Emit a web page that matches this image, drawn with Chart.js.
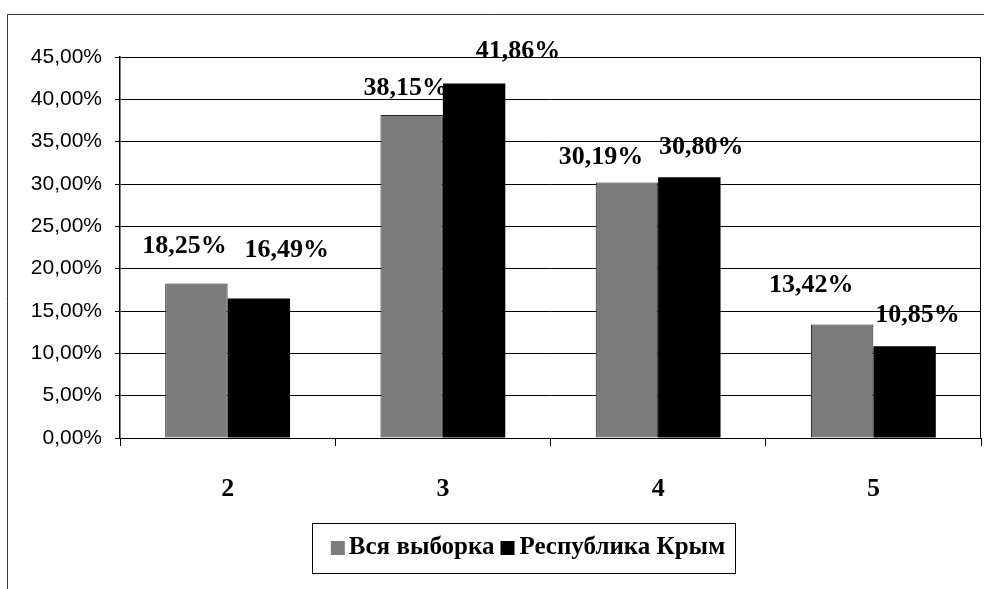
<!DOCTYPE html>
<html>
<head>
<meta charset="utf-8">
<script src="https://cdn.jsdelivr.net/npm/chart.js@4"></script>
<style>
  html, body { margin: 0; padding: 0; background: #fff; }
</style>
</head>
<body>
<canvas id="chart" width="984" height="589"></canvas>
<script>
const categories = ["2", "3", "4", "5"];
const seriesNames = ["Вся выборка", "Республика Крым"];
const allSample = [18.25, 38.15, 30.19, 13.42];
const crimea = [16.49, 41.86, 30.8, 10.85];
const yMax = 45;
const yStep = 5;

const serif = "'Liberation Serif', 'Times New Roman', serif";
const sans = "'Liberation Sans', Arial, sans-serif";
const colors = ["#7b7b7b", "#000000"];

function pct(v) {
  return v.toFixed(2).replace(".", ",") + "%";
}

// label nudges in px from the top of each bar (as placed in the original)
const labelShift = [
  [[-12, -37], [-6, -27], [-26, -25], [-31, -39]],
  [[28, -48], [44, -32], [12, -30], [13, -31]],
];

const framePlugin = {
  id: "frame",
  beforeDraw(chart) {
    const ctx = chart.ctx;
    ctx.save();
    ctx.fillStyle = "#fff";
    ctx.fillRect(0, 0, chart.width, chart.height);
    ctx.strokeStyle = "#333";
    ctx.lineWidth = 1;
    ctx.beginPath();
    ctx.moveTo(7.5, chart.height);
    ctx.lineTo(7.5, 14.5);
    ctx.lineTo(chart.width, 14.5);
    ctx.stroke();
    ctx.restore();
  },
  afterDraw(chart) {
    const a = chart.chartArea;
    const ctx = chart.ctx;
    ctx.save();
    ctx.strokeStyle = "#000";
    ctx.lineWidth = 1;
    ctx.beginPath();
    ctx.moveTo(Math.round(a.right) - 0.5, a.top);
    ctx.lineTo(Math.round(a.right) - 0.5, a.bottom);
    ctx.stroke();
    ctx.restore();
  },
};

const valueLabels = {
  id: "valueLabels",
  afterDatasetsDraw(chart) {
    const ctx = chart.ctx;
    ctx.save();
    ctx.font = "bold 26px " + serif;
    ctx.fillStyle = "#000";
    ctx.textAlign = "center";
    ctx.textBaseline = "middle";
    chart.data.datasets.forEach((ds, i) => {
      chart.getDatasetMeta(i).data.forEach((bar, j) => {
        const s = labelShift[i][j];
        ctx.fillText(pct(ds.data[j]), bar.x + s[0], bar.y + s[1]);
      });
    });
    ctx.restore();
  },
};

const boxLegend = {
  id: "boxLegend",
  afterDraw(chart) {
    const ctx = chart.ctx;
    ctx.save();
    ctx.font = "bold 25px " + serif;
    ctx.textBaseline = "middle";
    const sq = 14;
    const w0 = ctx.measureText(seriesNames[0]).width;
    const w1 = ctx.measureText(seriesNames[1]).width;
    const inner = sq + 4 + w0 + 6 + sq + 5 + w1;
    const cx = 528;
    const cy = 548;
    const left = cx - inner / 2;
    ctx.strokeStyle = "#000";
    ctx.lineWidth = 1;
    ctx.strokeRect(Math.round(left - 19) + 0.5, 523.5, Math.round(inner + 29), 50);
    let x = left;
    seriesNames.forEach((name, i) => {
      ctx.fillStyle = colors[i];
      ctx.fillRect(x, cy - sq / 2, sq, sq);
      x += sq + (i === 0 ? 4 : 5);
      ctx.fillStyle = "#000";
      ctx.fillText(name, x, cy);
      x += (i === 0 ? w0 : w1) + 6;
    });
    ctx.restore();
  },
};

new Chart(document.getElementById("chart"), {
  type: "bar",
  data: {
    labels: categories,
    datasets: [
      {
        label: seriesNames[0],
        data: allSample,
        backgroundColor: colors[0],
        borderColor: "#222",
        borderWidth: 1,
        categoryPercentage: 0.58,
        barPercentage: 1,
      },
      {
        label: seriesNames[1],
        data: crimea,
        backgroundColor: colors[1],
        categoryPercentage: 0.58,
        barPercentage: 1,
      },
    ],
  },
  options: {
    responsive: false,
    animation: false,
    layout: { padding: { top: 57, right: 3, left: 0, bottom: 0 } },
    plugins: {
      legend: { display: false },
      tooltip: { enabled: false },
    },
    scales: {
      x: {
        afterFit(scale) {
          scale.height = 151;
        },
        grid: {
          offset: true,
          drawOnChartArea: false,
          color: "#000",
          tickLength: 8,
        },
        border: { color: "#000", width: 1 },
        ticks: {
          color: "#000",
          padding: 28,
          font: { family: serif, size: 26, weight: "bold" },
        },
      },
      y: {
        min: 0,
        max: yMax,
        afterFit(scale) {
          scale.width = 120;
        },
        grid: { color: "#000", tickLength: 5 },
        border: { color: "#000", width: 1.5 },
        ticks: {
          stepSize: yStep,
          color: "#000",
          padding: 13,
          font: { family: sans, size: 21 },
          callback: (v) => pct(v),
        },
      },
    },
  },
  plugins: [framePlugin, valueLabels, boxLegend],
});
</script>
</body>
</html>
